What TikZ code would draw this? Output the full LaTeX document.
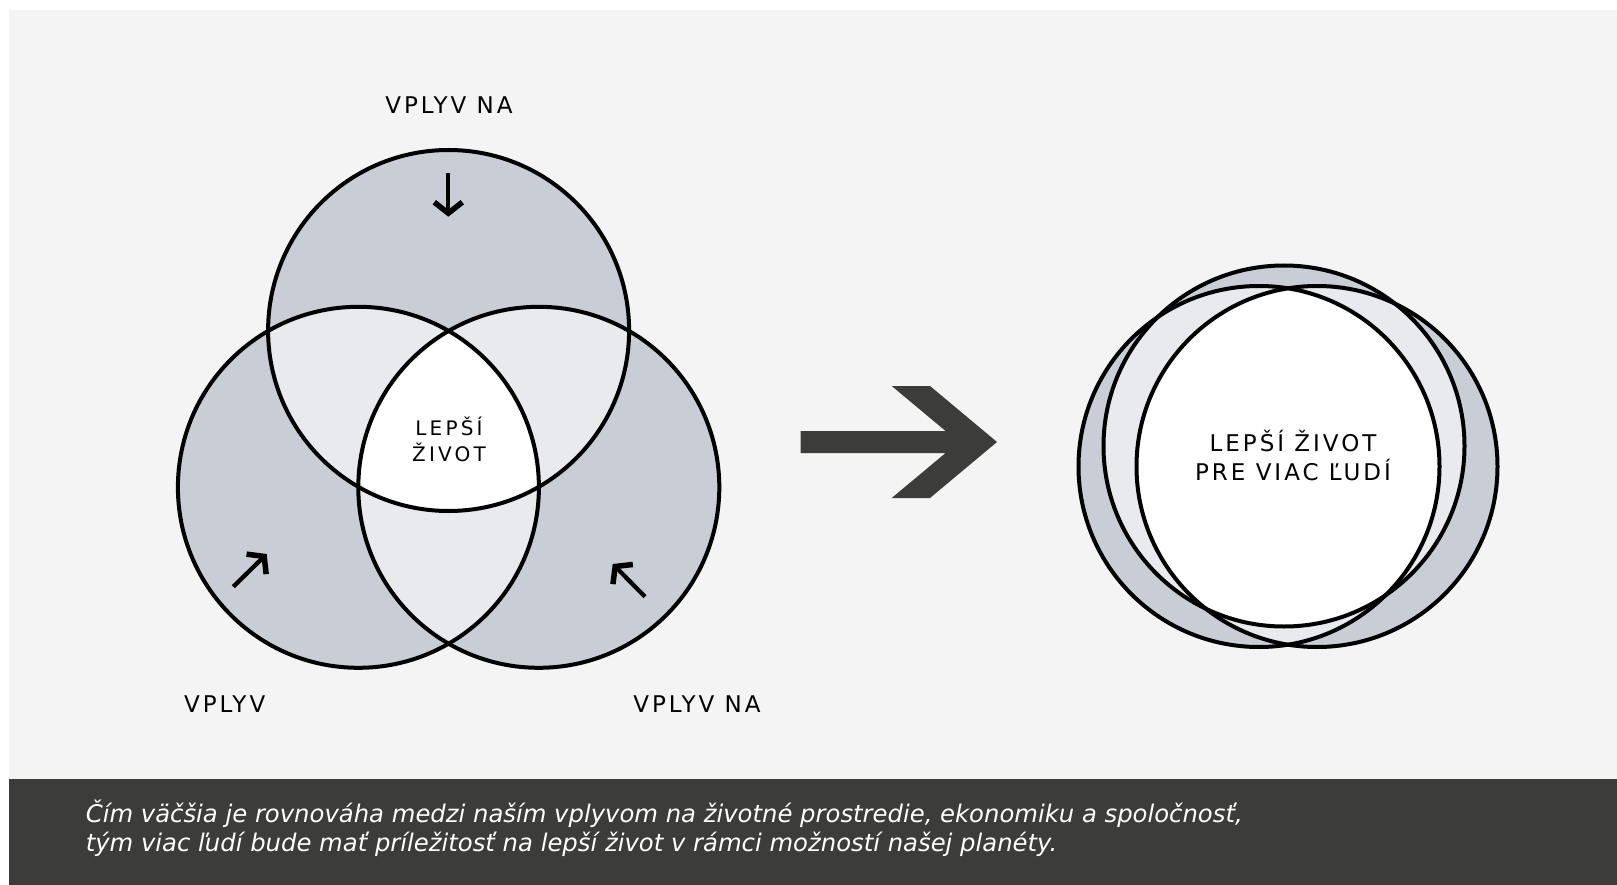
\documentclass[tikz,border=0pt]{standalone}
\usepackage{fontspec}
\setmainfont{DejaVu Sans}
\newfontfamily\lblfont[LetterSpace=13]{DejaVu Sans}
\newfontfamily\ctrfont[LetterSpace=16]{DejaVu Sans}
\usetikzlibrary{arrows.meta}
\definecolor{bglight}{HTML}{F4F4F4}
\definecolor{band}{HTML}{3C3C3B}
\definecolor{darkfill}{HTML}{C8CDD6}
\definecolor{lightfill}{HTML}{E9EAEE}
\tikzset{
  ring/.style={draw=black, line width=4pt},
  lbl/.style={font=\lblfont\fontsize{23}{27}\selectfont, text=black, inner sep=0pt, anchor=base},
  ctrlbl/.style={font=\ctrfont\fontsize{20}{24}\selectfont, text=black, inner sep=0pt, anchor=base},
  captxt/.style={font=\itshape\fontsize{24.3}{28}\selectfont, text=white, inner sep=0pt, anchor=base west},
  smallarrow/.style={line width=4.3pt, -{Straight Barb[length=11pt,width=28pt,line width=5.5pt]}}
}
\begin{document}
\begin{tikzpicture}[x=1pt,y=-1pt]
\useasboundingbox (0,0) rectangle (1617,885);
\fill[white] (0,0) rectangle (1617,885);
\fill[bglight] (9,10) rectangle (1617,779);
\fill[band] (9,779) rectangle (1617,885);

% ---------- Venn diagram ----------
\def\R{180.5pt}
\coordinate (T) at (448.6,330.5);
\coordinate (L) at (358.4,487.3);
\coordinate (Rr) at (538.8,487.3);
\fill[darkfill] (T) circle[radius=\R];
\fill[darkfill] (L) circle[radius=\R];
\fill[darkfill] (Rr) circle[radius=\R];
\begin{scope}
  \clip (T) circle[radius=\R];
  \fill[lightfill] (L) circle[radius=\R];
  \fill[lightfill] (Rr) circle[radius=\R];
\end{scope}
\begin{scope}
  \clip (L) circle[radius=\R];
  \fill[lightfill] (Rr) circle[radius=\R];
\end{scope}
\begin{scope}
  \clip (T) circle[radius=\R];
  \clip (L) circle[radius=\R];
  \fill[white] (Rr) circle[radius=\R];
\end{scope}
\draw[ring] (T) circle[radius=\R];
\draw[ring] (L) circle[radius=\R];
\draw[ring] (Rr) circle[radius=\R];

% small arrows
\coordinate (a1s) at (448.3,172.7);
\coordinate (a1e) at (448.3,216.7);
\coordinate (a2s) at (233.3,586.7);
\coordinate (a2e) at (266.7,554);
\coordinate (a3s) at (645,596.7);
\coordinate (a3e) at (612.7,564);
\draw[smallarrow] (a1s) -- (a1e);
\draw[smallarrow] (a2s) -- (a2e);
\draw[smallarrow] (a3s) -- (a3e);

% labels
\node[lbl] (topL) at (449,114) {VPLYV NA};
\node[lbl] (blL) at (224.7,712) {VPLYV};
\node[lbl] (brL) at (697,712) {VPLYV NA};
\node[ctrlbl] (c1) at (449,435) {LEPŠÍ};
\node[ctrlbl] (c2) at (449,461.5) {ŽIVOT};

% ---------- big arrow ----------
\fill[band] (800.7,431) -- (945.6,431) -- (891.7,386) -- (930,386) -- (997,442)
  -- (930,498) -- (891.7,498) -- (945.6,453) -- (800.7,453) -- cycle;

% ---------- merged circles ----------
\coordinate (A) at (1284,446);
\coordinate (B) at (1259,466.5);
\coordinate (C) at (1317,466.5);
\fill[darkfill] (A) circle[radius=\R];
\fill[darkfill] (B) circle[radius=\R];
\fill[darkfill] (C) circle[radius=\R];
\begin{scope}
  \clip (A) circle[radius=\R];
  \fill[lightfill] (B) circle[radius=\R];
  \fill[lightfill] (C) circle[radius=\R];
\end{scope}
\begin{scope}
  \clip (B) circle[radius=\R];
  \fill[lightfill] (C) circle[radius=\R];
\end{scope}
\begin{scope}
  \clip (A) circle[radius=\R];
  \clip (B) circle[radius=\R];
  \fill[white] (C) circle[radius=\R];
\end{scope}
\draw[ring] (A) circle[radius=\R];
\draw[ring] (B) circle[radius=\R];
\draw[ring] (C) circle[radius=\R];
\node[lbl] (r1) at (1293,451.7) {LEPŠÍ ŽIVOT};
\node[lbl] (r2) at (1293,480.7) {PRE VIAC ĽUDÍ};

% ---------- caption ----------
\node[captxt] (cap1) at (85.6,822) {Čím väčšia je rovnováha medzi naším vplyvom na životné prostredie, ekonomiku a spoločnosť,};
\node[captxt] (cap2) at (85.6,851) {tým viac ľudí bude mať príležitosť na lepší život v rámci možností našej planéty.};
\end{tikzpicture}
\end{document}
